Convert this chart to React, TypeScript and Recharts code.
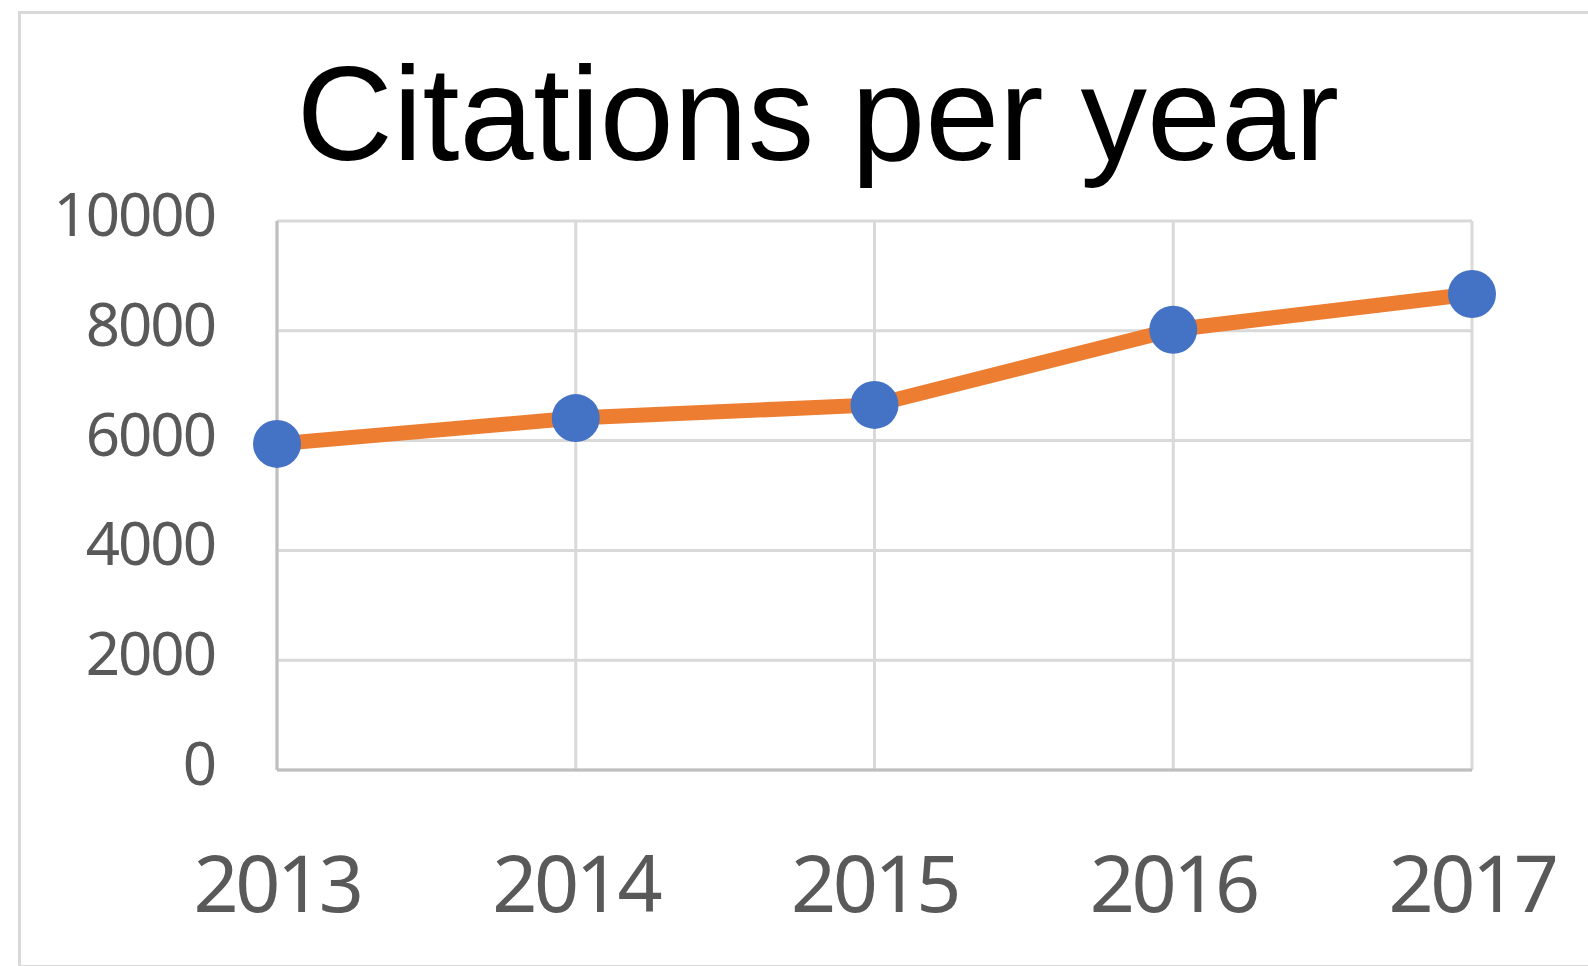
import { LineChart, Line, XAxis, YAxis, CartesianGrid } from "recharts";

const years = ["2013", "2014", "2015", "2016", "2017"];
const citations = [5940, 6410, 6650, 8020, 8670];
const yTicks = [0, 2000, 4000, 6000, 8000, 10000];

const data = years.map((year, i) => ({ year, citations: citations[i] }));

const TICK_FONT = "'Noto Sans', 'Open Sans', sans-serif";

const YTick = ({ x, y, payload }: any) => (
  <text
    x={x - 54}
    y={y + 15}
    textAnchor="end"
    fill="#595959"
    fontFamily={TICK_FONT}
    fontSize={60}
    letterSpacing={-2}
  >
    {payload.value}
  </text>
);

const XTick = ({ x, y, payload }: any) => (
  <text
    x={x}
    y={y + 134}
    textAnchor="middle"
    fill="#595959"
    fontFamily={TICK_FONT}
    fontSize={79}
    letterSpacing={-3.5}
  >
    {payload.value}
  </text>
);

export default function App() {
  return (
    <div
      style={{
        position: "absolute",
        left: 0,
        top: 0,
        width: 1588,
        height: 966,
        overflow: "hidden",
        background: "#fff",
      }}
    >
      {/* chart frame, right edge runs off the picture */}
      <div
        style={{
          position: "absolute",
          left: 18,
          top: 11,
          width: 1640,
          height: 951,
          border: "3px solid #d9d9d9",
        }}
      />
      <svg
        width={1588}
        height={200}
        style={{ position: "absolute", left: 0, top: 0 }}
      >
        <text
          x={818}
          y={160}
          textAnchor="middle"
          fontFamily="'Liberation Sans', Arial, sans-serif"
          fontSize={133}
          fill="#000"
        >
          Citations per year
        </text>
      </svg>
      <div style={{ position: "absolute", left: 0, top: 0 }}>
        <LineChart
          width={1588}
          height={966}
          data={data}
          margin={{ top: 221, right: 116, left: 0, bottom: 0 }}
        >
          <CartesianGrid stroke="#d9d9d9" strokeWidth={3} />
          <XAxis
            dataKey="year"
            height={196}
            axisLine={{ stroke: "#bfbfbf", strokeWidth: 3 }}
            tickLine={false}
            tick={<XTick />}
            interval={0}
          />
          <YAxis
            width={277}
            domain={[0, 10000]}
            ticks={yTicks}
            axisLine={{ stroke: "#bfbfbf", strokeWidth: 3 }}
            tickLine={false}
            tick={<YTick />}
            interval={0}
          />
          <Line
            type="linear"
            dataKey="citations"
            stroke="#ed7d31"
            strokeWidth={15}
            dot={{ r: 24, fill: "#4472c4", stroke: "none" }}
            activeDot={false}
            isAnimationActive={false}
          />
        </LineChart>
      </div>
    </div>
  );
}
